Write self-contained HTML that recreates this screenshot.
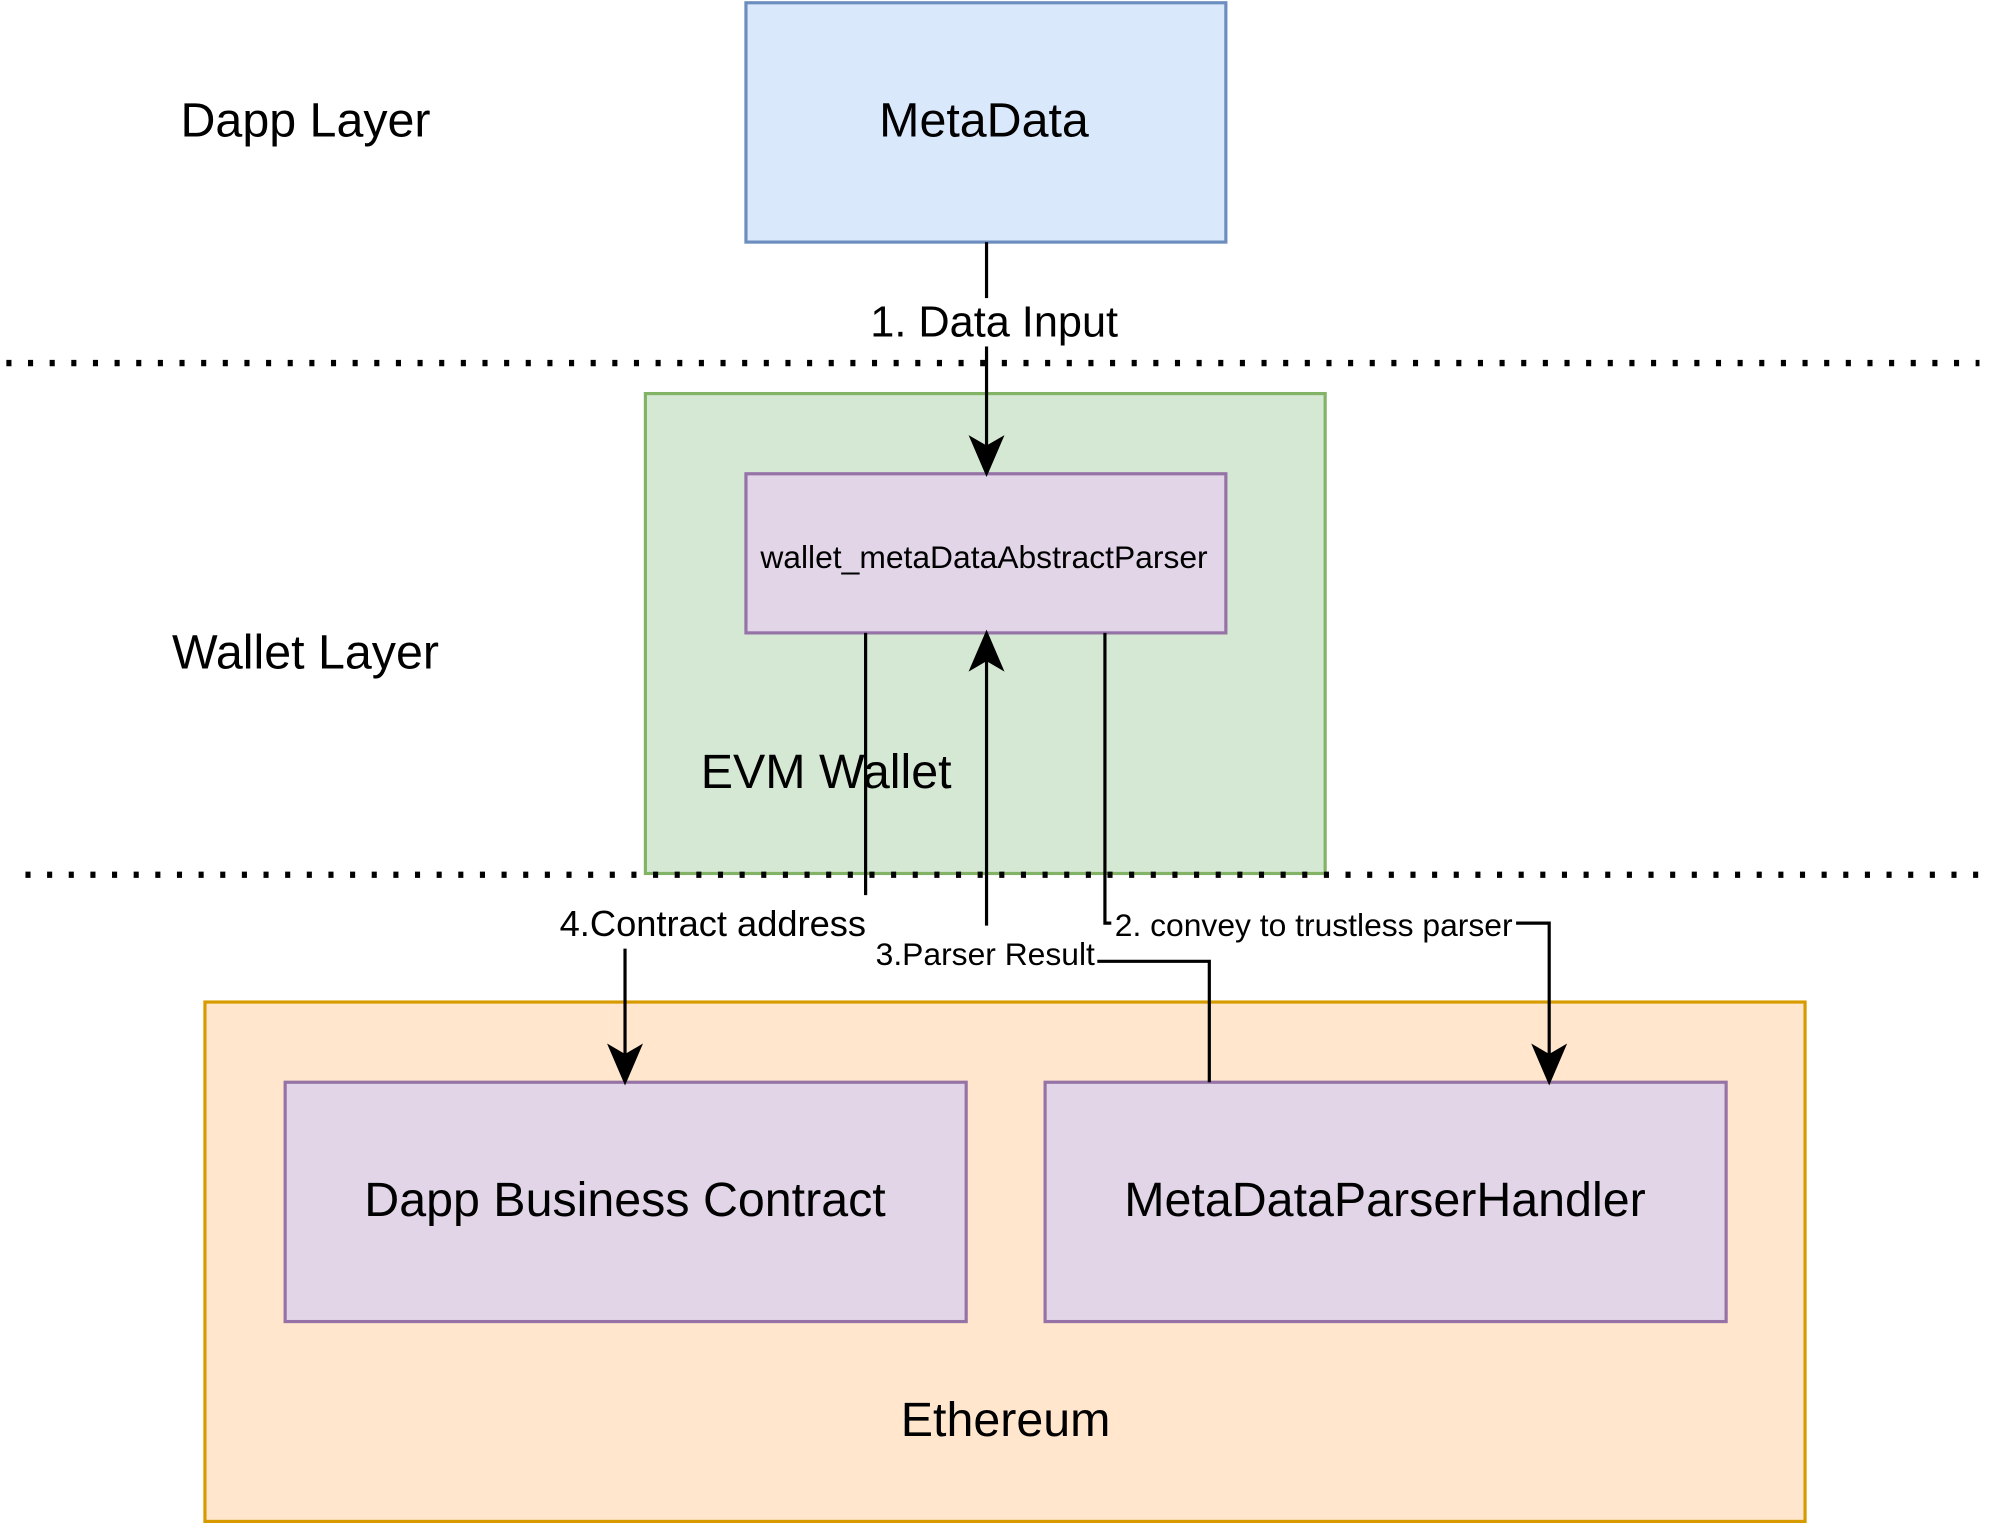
<!DOCTYPE html>
<html><head><meta charset="utf-8"><style>
html,body{margin:0;padding:0;background:#fff;}
svg{display:block;}
text{font-family:"Liberation Sans",Helvetica,Arial,sans-serif;fill:#000;}
</style></head><body>
<svg width="1996" height="1528" viewBox="0 0 1568 1200" xmlns="http://www.w3.org/2000/svg">
<rect x="586" y="2" width="377" height="188" fill="#dae8fc" stroke="#6c8ebf" stroke-width="2.5"/>
<text x="773" y="107" font-size="38" text-anchor="middle">MetaData</text>
<text x="240" y="107" font-size="38" text-anchor="middle">Dapp Layer</text>

<line x1="5" y1="285" x2="1555" y2="285" stroke="#000" stroke-width="5" stroke-dasharray="4 13"/>

<rect x="507" y="309" width="534" height="377" fill="#d5e8d4" stroke="#82b366" stroke-width="2.5"/>
<rect x="586" y="372" width="377" height="125" fill="#e1d5e7" stroke="#9673a6" stroke-width="2.5"/>
<text x="773" y="446" font-size="25" text-anchor="middle">wallet_metaDataAbstractParser</text>
<text x="240" y="525" font-size="38" text-anchor="middle">Wallet Layer</text>
<text x="649" y="619" font-size="38" text-anchor="middle">EVM Wallet</text>

<line x1="20" y1="687" x2="1565" y2="687" stroke="#000" stroke-width="5" stroke-dasharray="4 13"/>

<rect x="161" y="787" width="1257" height="408" fill="#ffe6cc" stroke="#d79b00" stroke-width="2.5"/>
<text x="790" y="1128" font-size="38" text-anchor="middle">Ethereum</text>
<rect x="224" y="850" width="535" height="188" fill="#e1d5e7" stroke="#9673a6" stroke-width="2.5"/>
<text x="491" y="955" font-size="38" text-anchor="middle">Dapp Business Contract</text>
<rect x="821" y="850" width="535" height="188" fill="#e1d5e7" stroke="#9673a6" stroke-width="2.5"/>
<text x="1088" y="955" font-size="38" text-anchor="middle">MetaDataParserHandler</text>

<line x1="775" y1="190" x2="775" y2="360" stroke="#000" stroke-width="2.5"/>
<path d="M763 344 L775 372 L787 344 L775 351 Z" fill="#000" stroke="#000" stroke-width="2"/>
<rect x="680" y="234" width="202" height="38" fill="#fff"/>
<text x="781" y="264" font-size="34" text-anchor="middle">1. Data Input</text>

<path d="M680 497 L680 703 M491 745 L491 838" fill="none" stroke="#000" stroke-width="2.5"/>
<path d="M479 822 L491 850 L503 822 L491 829 Z" fill="#000" stroke="#000" stroke-width="2"/>
<text x="560" y="735" font-size="28.5" text-anchor="middle">4.Contract address</text>

<path d="M950 850 L950 755 L862 755 M775 727 L775 510" fill="none" stroke="#000" stroke-width="2.5"/>
<path d="M763 525 L775 497 L787 525 L775 518 Z" fill="#000" stroke="#000" stroke-width="2"/>
<text x="774" y="758" font-size="25" text-anchor="middle">3.Parser Result</text>

<path d="M868 497 L868 725 L873 725 M1191 725 L1217 725 L1217 838" fill="none" stroke="#000" stroke-width="2.5"/>
<path d="M1205 822 L1217 850 L1229 822 L1217 829 Z" fill="#000" stroke="#000" stroke-width="2"/>
<text x="1032" y="735" font-size="25" text-anchor="middle">2. convey to trustless parser</text>
</svg>
</body></html>
